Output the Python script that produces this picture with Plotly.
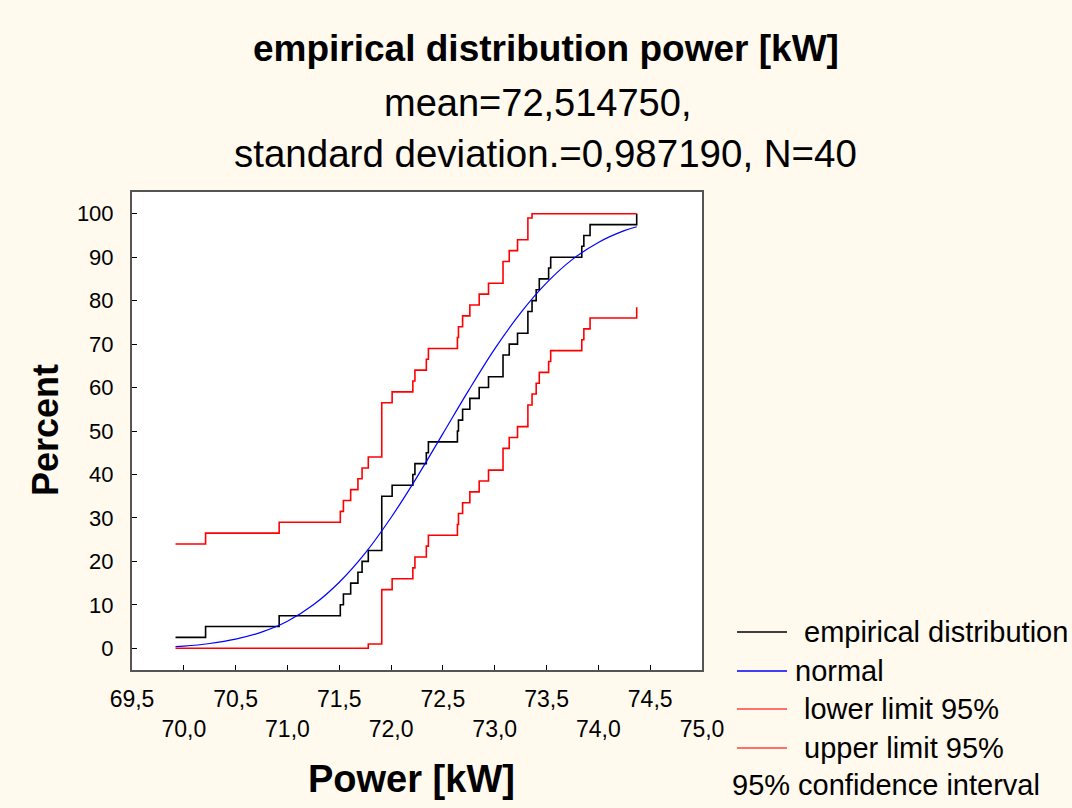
import plotly.graph_objects as go

# ---------------- data ----------------
power_kw = [69.92, 70.21, 70.92, 71.51, 71.54, 71.61, 71.68, 71.72, 71.78, 71.91,
            72.01, 72.21, 72.23, 72.34, 72.36, 72.64, 72.65, 72.69, 72.76, 72.85,
            72.94, 73.08, 73.14, 73.22, 73.32, 73.36, 73.40, 73.43, 73.52, 73.54,
            73.84, 73.86, 73.92, 74.37]
empirical_pct = [2.5, 5.0, 7.5, 10.0, 12.5, 15.0, 17.5, 20.0, 22.5, 35.0,
                 37.5, 40.0, 42.5, 45.0, 47.5, 50.0, 52.5, 55.0, 57.5, 60.0,
                 62.5, 67.5, 70.0, 72.5, 77.5, 80.0, 82.5, 85.0, 87.5, 90.0,
                 92.5, 95.0, 97.5, 100.0]
lower_pct = [0.0, 0.0, 0.0, 0.0, 0.0, 0.0, 0.0, 0.0, 1.0, 13.5,
             16.0, 18.5, 21.0, 23.5, 26.0, 28.5, 31.0, 33.5, 36.0, 38.5,
             41.0, 46.0, 48.5, 51.0, 56.0, 58.5, 61.0, 63.5, 66.0, 68.5,
             71.0, 73.5, 76.0, 78.5]
upper_pct = [24.0, 26.5, 29.0, 31.5, 34.0, 36.5, 39.0, 41.5, 44.0, 56.5,
             59.0, 61.5, 64.0, 66.5, 69.0, 71.5, 74.0, 76.5, 79.0, 81.5,
             84.0, 89.0, 91.5, 94.0, 99.0, 100.0, 100.0, 100.0, 100.0, 100.0,
             100.0, 100.0, 100.0, 100.0]
normal_x = [69.92, 70.0, 70.25, 70.5, 70.75, 71.0, 71.25, 71.5, 71.75, 72.0,
            72.25, 72.5, 72.75, 73.0, 73.25, 73.5, 73.75, 74.0, 74.25, 74.37]
normal_pct = [0.4, 0.5, 1.1, 2.1, 3.7, 6.2, 10.0, 15.2, 21.9, 30.1,
              39.4, 49.4, 59.4, 68.9, 77.2, 84.1, 89.5, 93.4, 96.1, 97.0]

x_tick_vals = [69.5, 70.0, 70.5, 71.0, 71.5, 72.0, 72.5, 73.0, 73.5, 74.0, 74.5, 75.0]
x_tick_text = ["69,5", "70,0", "70,5", "71,0", "71,5", "72,0", "72,5", "73,0", "73,5", "74,0", "74,5", "75,0"]
y_tick_vals = [0, 10, 20, 30, 40, 50, 60, 70, 80, 90, 100]

title_text = "empirical distribution power [kW]"
subtitle_1 = "mean=72,514750,"
subtitle_2 = "standard deviation.=0,987190, N=40"
legend_labels = ["empirical distribution", "normal", "lower limit 95%", "upper limit 95%"]
legend_footer = "95% confidence interval"

# ---------------- layout geometry ----------------
W, H = 1072, 808
L, R, T, B = 132, 702, 192, 670
FONT = "Liberation Sans, Arial, sans-serif"
BG = "#FFF9EE"


def px_x(px):
    return (px - L) / (R - L)


def px_y(py):
    return (B - py) / (B - T)


fig = go.Figure()
fig.add_trace(go.Scatter(x=power_kw, y=empirical_pct, mode="lines",
                         line=dict(color="#000000", width=1.6, shape="hv"),
                         name=legend_labels[0]))
fig.add_trace(go.Scatter(x=normal_x, y=normal_pct, mode="lines",
                         line=dict(color="#0000FF", width=1.2, shape="spline"),
                         name=legend_labels[1]))
fig.add_trace(go.Scatter(x=power_kw, y=lower_pct, mode="lines",
                         line=dict(color="#FF0000", width=1.6, shape="hv"),
                         name=legend_labels[2]))
fig.add_trace(go.Scatter(x=power_kw, y=upper_pct, mode="lines",
                         line=dict(color="#FF0000", width=1.6, shape="hv"),
                         name=legend_labels[3]))

# alternate tick label rows
alt_text = [t if i % 2 == 0 else "\u00a0<br>" + t for i, t in enumerate(x_tick_text)]

fig.update_xaxes(range=[69.5, 75.0], tickvals=x_tick_vals, ticktext=alt_text,
                 ticks="inside", ticklen=5, tickcolor="#000", tickwidth=1,
                 showline=True, linecolor="#555555", linewidth=2, mirror=True,
                 showgrid=False, zeroline=False,
                 tickfont=dict(family=FONT, size=23, color="#000"),
                 ticklabelstandoff=7)
fig.update_yaxes(range=[-5, 105], tickvals=y_tick_vals,
                 ticks="inside", ticklen=5, tickcolor="#000", tickwidth=1,
                 showline=True, linecolor="#555555", linewidth=2, mirror=True,
                 showgrid=False, zeroline=False,
                 tickfont=dict(family=FONT, size=22, color="#000"),
                 ticklabelstandoff=12)

annotations = [
    dict(text="<b>" + title_text + "</b>", x=px_x(546), y=px_y(48), font=dict(size=37)),
    dict(text=subtitle_1, x=px_x(537), y=px_y(103), font=dict(size=38)),
    dict(text=subtitle_2, x=px_x(545), y=px_y(153), font=dict(size=38.5)),
    dict(text="<b>Power [kW]</b>", x=px_x(411), y=px_y(779), font=dict(size=38)),
    dict(text="<b>Percent</b>", x=px_x(45), y=px_y(430), font=dict(size=36), textangle=-90),
]
for a in annotations:
    a.update(xref="paper", yref="paper", xanchor="center", yanchor="middle",
             showarrow=False)
    a["font"].update(family=FONT, color="#000")

legend_rows = [632, 671, 709, 748]
legend_colors = ["#000000", "#0000FF", "#FF4040", "#FF4040"]
legend_text_x = [802, 793, 802, 802]
shapes = []
for lab, yy, col, tx in zip(legend_labels, legend_rows, legend_colors, legend_text_x):
    shapes.append(dict(type="line", xref="paper", yref="paper",
                       x0=px_x(737), x1=px_x(787), y0=px_y(yy), y1=px_y(yy),
                       line=dict(color=col, width=1.3)))
    annotations.append(dict(text=lab, xref="paper", yref="paper", x=px_x(tx), y=px_y(yy),
                            xanchor="left", yanchor="middle", showarrow=False,
                            font=dict(family=FONT, size=29, color="#000")))
annotations.append(dict(text=legend_footer, xref="paper", yref="paper", x=px_x(730), y=px_y(785),
                        xanchor="left", yanchor="middle", showarrow=False,
                        font=dict(family=FONT, size=29, color="#000")))

fig.update_layout(width=W, height=H, autosize=False,
                  margin=dict(l=L, r=W - R, t=T, b=H - B, pad=0),
                  paper_bgcolor=BG, plot_bgcolor="#FFFFFF",
                  showlegend=False, annotations=annotations, shapes=shapes,
                  font=dict(family=FONT, color="#000"))

fig.write_html("out.html", config={"displayModeBar": False})
